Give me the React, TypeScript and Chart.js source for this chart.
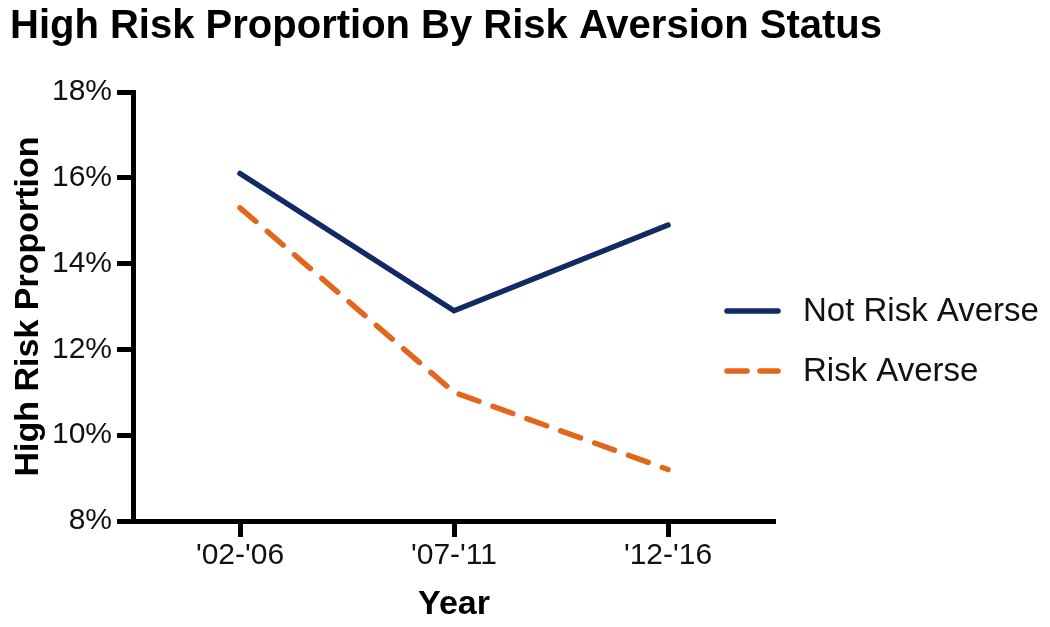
import React, { useEffect, useRef } from "react";
import { Chart, registerables } from "chart.js";

Chart.register(...registerables);

const categories = ["'02-'06", "'07-'11", "'12-'16"];
const notRiskAverse = [16.1, 12.9, 14.9];
const riskAverse = [15.3, 11.0, 9.2];
const seriesNames = ["Not Risk Averse", "Risk Averse"];
const yTicks = [8, 10, 12, 14, 16, 18];

const FONT = "'Liberation Sans', Arial, Helvetica, sans-serif";
const NAVY = "#112a63";
const ORANGE = "#e2671d";

const legendPlugin = {
  id: "customLegend",
  afterDraw(chart: any) {
    const ctx = chart.ctx;
    const area = chart.chartArea;
    const x0 = area.right - 48;
    const ys = [311, 371];
    ctx.save();
    chart.data.datasets.forEach((ds: any, i: number) => {
      const y = ys[i];
      ctx.beginPath();
      ctx.lineWidth = 5.5;
      ctx.lineCap = "round";
      ctx.strokeStyle = ds.borderColor;
      ctx.setLineDash(ds.borderDash ? [20, 13] : []);
      ctx.moveTo(x0, y);
      ctx.lineTo(x0 + 51, y);
      ctx.stroke();
      ctx.setLineDash([]);
      ctx.fillStyle = "#111";
      ctx.font = `33px ${FONT}`;
      ctx.textBaseline = "middle";
      ctx.textAlign = "left";
      ctx.fillText(ds.label, x0 + 76, y + 1);
    });
    ctx.restore();
  },
};

export default function App() {
  const ref = useRef<HTMLCanvasElement>(null);
  useEffect(() => {
    if (!ref.current) return;
    const chart = new Chart(ref.current, {
      type: "line",
      data: {
        labels: categories,
        datasets: [
          {
            label: seriesNames[0],
            data: notRiskAverse,
            borderColor: NAVY,
            backgroundColor: NAVY,
            borderWidth: 5.5,
            borderCapStyle: "round",
            borderJoinStyle: "miter",
            pointRadius: 0,
            tension: 0,
          },
          {
            label: seriesNames[1],
            data: riskAverse,
            borderColor: ORANGE,
            backgroundColor: ORANGE,
            borderWidth: 5.5,
            borderCapStyle: "round",
            borderDash: [21, 15],
            pointRadius: 0,
            tension: 0,
          },
        ],
      },
      options: {
        responsive: false,
        animation: false,
        layout: { padding: { left: 10, right: 0, top: 0, bottom: 0 } },
        plugins: {
          legend: { display: false },
          tooltip: { enabled: false },
          title: {
            display: true,
            text: "High Risk Proportion By Risk Aversion Status",
            align: "start",
            color: "#000",
            font: { family: FONT, size: 40, weight: "bold", lineHeight: 1.2 },
            padding: { top: 3, bottom: 41 },
          },
        },
        scales: {
          x: {
            type: "category",
            offset: true,
            grid: {
              display: true,
              drawOnChartArea: false,
              drawTicks: true,
              tickLength: 16,
              tickWidth: 5,
              tickColor: "#000",
              offset: false,
            },
            border: { display: true, color: "#000", width: 5 },
            ticks: {
              color: "#111",
              font: { family: FONT, size: 30 },
              padding: 1,
              maxRotation: 0,
            },
            title: {
              display: true,
              text: "Year",
              color: "#000",
              font: { family: FONT, size: 34, weight: "bold", lineHeight: 1.2 },
              padding: { top: 0, bottom: 2 },
            },
            afterFit(scale: any) {
              scale.height = 106;
            },
          },
          y: {
            min: 8,
            max: 18,
            afterBuildTicks(scale: any) {
              scale.ticks = yTicks.map((v) => ({ value: v }));
            },
            grid: {
              display: true,
              drawOnChartArea: false,
              drawTicks: true,
              tickLength: 16,
              tickWidth: 5,
              tickColor: "#000",
            },
            border: { display: true, color: "#000", width: 5 },
            ticks: {
              color: "#111",
              font: { family: FONT, size: 30 },
              padding: 5,
              callback: (v: any) => `${v}%`,
            },
            title: {
              display: true,
              text: "High Risk Proportion",
              color: "#000",
              font: { family: FONT, size: 34, weight: "bold", lineHeight: 1.2 },
              padding: { top: -2, bottom: 0 },
            },
            afterFit(scale: any) {
              scale.width = 123;
            },
          },
          legendSpace: {
            type: "linear",
            position: "right",
            display: true,
            grid: { display: false, drawTicks: false },
            border: { display: false },
            ticks: { display: false },
            afterFit(scale: any) {
              scale.width = 275;
            },
          },
        },
      },
      plugins: [legendPlugin],
    } as any);
    return () => chart.destroy();
  }, []);
  return (
    <div style={{ position: "absolute", left: 0, top: 0, width: 1050, height: 627, background: "#fff" }}>
      <canvas ref={ref} width={1050} height={627} style={{ width: 1050, height: 627 }} />
    </div>
  );
}
